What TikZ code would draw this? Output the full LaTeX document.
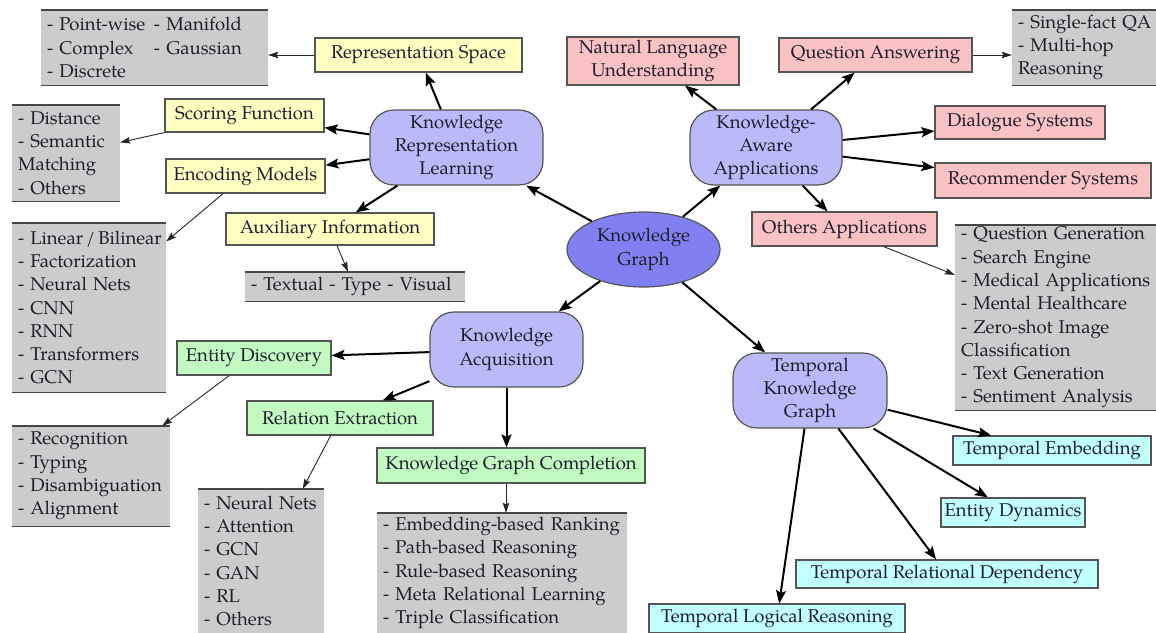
\documentclass[tikz,border=0pt]{standalone}
\usepackage{fontspec}
\IfFontExistsTF{TeX Gyre Pagella}{\setmainfont{TeX Gyre Pagella}\def\myfs{18.5}}{\setmainfont{Liberation Serif}\def\myfs{20}}
\usetikzlibrary{arrows.meta,calc,shapes.geometric}
\definecolor{txt}{RGB}{30,30,45}
\definecolor{bord}{RGB}{85,85,85}
\definecolor{grule}{RGB}{70,70,70}
\definecolor{grayfill}{RGB}{204,204,204}
\definecolor{yelfill}{RGB}{255,255,194}
\definecolor{pinkfill}{RGB}{250,194,194}
\definecolor{greenfill}{RGB}{194,250,194}
\definecolor{cyanfill}{RGB}{194,255,255}
\definecolor{blufill}{RGB}{186,186,248}
\definecolor{kgfill}{RGB}{128,128,240}
\newcommand{\gl}[1]{\mbox{#1}}
\begin{document}
\begin{tikzpicture}[x=1pt,y=-1pt,
  base/.style={font=\fontsize{\myfs}{23.3}\selectfont, text=txt, inner sep=0pt},
  boxy/.style={base, draw=bord, line width=1.2pt, align=center},
  yel/.style={boxy, fill=yelfill},
  pnk/.style={boxy, fill=pinkfill},
  grn/.style={boxy, fill=greenfill},
  cyn/.style={boxy, fill=cyanfill},
  blu/.style={boxy, fill=blufill, rounded corners=24pt},
  gbox/.style={base, fill=grayfill, align=left, inner xsep=6pt, inner ysep=0pt,
    append after command={(\tikzlastnode.north west) edge[draw=grule, line width=1.4pt] (\tikzlastnode.north east)
      (\tikzlastnode.south west) edge[draw=grule, line width=1.4pt] (\tikzlastnode.south east)}},
  thk/.style={draw=black, line width=2pt, -{Stealth[length=13pt,width=10pt,inset=2.5pt]}},
  thn/.style={draw=black!85, line width=0.9pt, -{Stealth[length=10pt,width=6.5pt,inset=1.5pt]}}
]
\useasboundingbox[fill=white] (0,0) rectangle (1156,632);

% central ellipse
\node[base, ellipse, draw=bord, line width=1.2pt, fill=kgfill, align=center,
  minimum width=153pt, minimum height=75pt] (kg) at (643.5,249.5) {Knowledge\\Graph};

% main rounded nodes
\node[blu, minimum width=173pt, minimum height=75pt] (krl) at (456.5,147.5) {Knowledge\\Representation\\Learning};
\node[blu, minimum width=152pt, minimum height=75pt] (kaa) at (766,147.5) {Knowledge-\\Aware\\Applications};
\node[blu, minimum width=153pt, minimum height=75pt] (ka) at (506.5,349.5) {Knowledge\\Acquisition};
\node[blu, minimum width=154pt, minimum height=75pt] (tkg) at (810,390.5) {Temporal\\Knowledge\\Graph};

% yellow
\node[yel, minimum width=207pt, minimum height=34pt] (rs) at (418.5,55) {Representation Space};
\node[yel, minimum width=159pt, minimum height=33pt] (sf) at (244.5,115.5) {Scoring Function};
\node[yel, minimum width=159pt, minimum height=34pt] (em) at (245.5,176) {Encoding Models};
\node[yel, minimum width=208pt, minimum height=32pt] (ai) at (330,229) {Auxiliary Information};

% pink
\node[pnk, minimum width=172pt, minimum height=48pt] (nlu) at (653,61) {Natural Language\\Understanding};
\node[pnk, minimum width=193pt, minimum height=34pt] (qa) at (875.5,55) {Question Answering};
\node[pnk, minimum width=170pt, minimum height=33pt] (ds) at (1020,122.5) {Dialogue Systems};
\node[pnk, minimum width=216pt, minimum height=35pt] (rsy) at (1043,180.5) {Recommender Systems};
\node[pnk, minimum width=185pt, minimum height=34pt] (oa) at (844.5,229) {Others Applications};

% green
\node[grn, minimum width=154pt, minimum height=34pt] (ed) at (254,358) {Entity Discovery};
\node[grn, minimum width=186pt, minimum height=34pt] (re) at (340,418) {Relation Extraction};
\node[grn, minimum width=268pt, minimum height=35pt] (kgc) at (511,465.5) {Knowledge Graph Completion};

% cyan
\node[cyn, minimum width=198pt, minimum height=29pt] (te) at (1052,450.5) {Temporal Embedding};
\node[cyn, minimum width=144pt, minimum height=29pt] (edy) at (1013,512.5) {Entity Dynamics};
\node[cyn, minimum width=302pt, minimum height=28pt] (trd) at (947,574) {Temporal Relational Dependency};
\node[cyn, minimum width=256pt, minimum height=29pt] (tlr) at (777,618.5) {Temporal Logical Reasoning};

% gray lists
\node[gbox, text width=215pt, minimum height=75pt] (g1) at (154.5,47.5)
  {\makebox[107pt][l]{- Point-wise}- Manifold\\\makebox[107pt][l]{- Complex}- Gaussian\\\gl{- Discrete}};
\node[gbox, text width=96pt, minimum height=96pt] (g2) at (66,153)
  {\gl{- Distance}\\\gl{- Semantic}\\\gl{Matching}\\\gl{- Others}};
\node[gbox, text width=142pt, minimum height=169pt] (g3) at (89,307.5)
  {\gl{- Linear\,/\,Bilinear}\\\gl{- Factorization}\\\gl{- Neural Nets}\\\gl{- CNN}\\\gl{- RNN}\\\gl{- Transformers}\\\gl{- GCN}};
\node[gbox, text width=208pt, minimum height=29pt] (g4) at (355,286.5)
  {\gl{- Textual - Type - Visual}};
\node[gbox, text width=134pt, minimum height=75pt] (g5) at (1085,47.5)
  {\gl{- Single-fact QA}\\\gl{- Multi-hop}\\\gl{Reasoning}};
\node[gbox, text width=191pt, minimum height=185pt] (g6) at (1056.5,317.5)
  {\gl{- Question Generation}\\\gl{- Search Engine}\\\gl{- Medical Applications}\\\gl{- Mental Healthcare}\\\gl{- Zero-shot Image}\\\gl{Classification}\\\gl{- Text Generation}\\\gl{- Sentiment Analysis}};
\node[gbox, text width=146pt, minimum height=100pt] (g7) at (91,476)
  {\gl{- Recognition}\\\gl{- Typing}\\\gl{- Disambiguation}\\\gl{- Alignment}};
\node[gbox, text width=114pt, minimum height=144pt] (g8) at (261,561)
  {\gl{- Neural Nets}\\\gl{- Attention}\\\gl{- GCN}\\\gl{- GAN}\\\gl{- RL}\\\gl{- Others}};
\node[gbox, text width=238pt, minimum height=120pt] (g9) at (502,573)
  {\gl{- Embedding-based Ranking}\\\gl{- Path-based Reasoning}\\\gl{- Rule-based Reasoning}\\\gl{- Meta Relational Learning}\\\gl{- Triple Classification}};

% thick arrows
\draw[thk] (kg) -- (krl);
\draw[thk] (kg) -- (kaa);
\draw[thk] (kg) -- (ka);
\draw[thk] (kg) -- (tkg);
\draw[thk] (krl) -- (rs);
\draw[thk] (krl) -- (sf);
\draw[thk] (krl) -- (em);
\draw[thk] (krl) -- (ai);
\draw[thk] (kaa) -- (nlu);
\draw[thk] (kaa) -- (qa);
\draw[thk] (kaa) -- (ds);
\draw[thk] (kaa) -- (rsy);
\draw[thk] (kaa) -- (oa);
\draw[thk] (ka) -- (ed);
\draw[thk] (ka) -- (re);
\draw[thk] (ka.south) -- (ka.south |- kgc.north);
\draw[thk] (tkg) -- (te);
\draw[thk] (tkg) -- (edy);
\draw[thk] (tkg) -- (trd);
\draw[thk] (tkg) -- (tlr);

% thin arrows
\draw[thn] (rs.west) -- (rs.west -| g1.east);
\draw[thn] (sf.south west) -- ($(g2.north east)!0.39!(g2.south east)$);
\draw[thn] ($(em.south west)!0.36!(em.south east)$) -- ($(g3.north east)!0.11!(g3.south east)$);
\draw[thn] ($(ai.south)+(7,0)$) -- ($(g4.north)+(-7,0)$);
\draw[thn] (qa.east) -- (qa.east -| g5.west);
\draw[thn] ($(oa.south west)!0.71!(oa.south east)$) -- ($(g6.north west)!0.27!(g6.south west)$);
\draw[thn] ($(ed.south west)!0.34!(ed.south east)$) -- ($(g7.north east)+(-8,0)$);
\draw[thn] ($(re.south west)!0.45!(re.south east)$) -- ($(g8.north west)!0.83!(g8.north east)$);
\coordinate (kgcs) at ($(kgc.south)+(-5,0)$);
\draw[thn] (kgcs) -- (kgcs |- g9.north);
\end{tikzpicture}
\end{document}
